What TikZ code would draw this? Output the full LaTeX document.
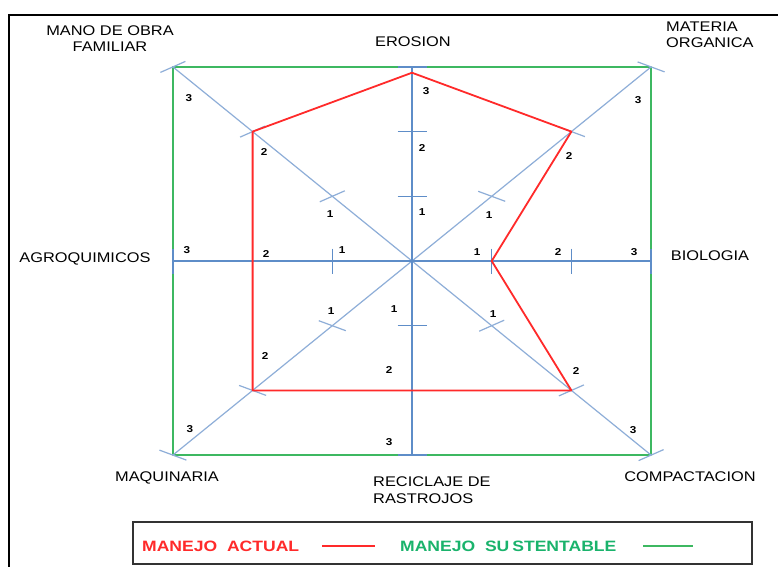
\documentclass[tikz,border=0pt]{standalone}
\usepackage{fontspec}
\setmainfont{Liberation Sans}
\usepackage{graphicx}
\usetikzlibrary{calc}
\definecolor{axisblue}{HTML}{5E8DC8}
\definecolor{diagblue}{HTML}{8EAED8}
\definecolor{actualred}{HTML}{FF2A2A}
\definecolor{sustgreen}{HTML}{3DB861}
\definecolor{legendgreen}{HTML}{1AB36C}
\definecolor{boxgray}{HTML}{333333}
% slightly widened lettering
\newcommand{\wide}[1]{\scalebox{1.17}[1]{#1}}

\begin{document}
\begin{tikzpicture}[x=1pt,y=-1pt,
  lbl/.style={font=\fontsize{14}{16.5}\selectfont, inner sep=0pt, text=black},
  num/.style={font=\fontsize{10}{12}\selectfont\bfseries, inner sep=0pt, text=black},
  leg/.style={font=\fontsize{15}{18}\selectfont\bfseries, inner sep=0pt, anchor=west},
  axis/.style={axisblue, line width=1.5pt},
  diag/.style={diagblue, line width=1.2pt},
  actual/.style={actualred, line width=1.8pt, line join=round},
  sust/.style={sustgreen, line width=1.8pt, line join=round},
]
\useasboundingbox (0,0) rectangle (778,566);
\fill[white] (0,0) rectangle (778,566);
\draw[black, line width=1.2pt] (9,15) rectangle (790,580);

% centre of the star and the three levels on each of the eight axes
\coordinate (O) at (412,261);
\foreach \nm/\dx/\dy in {ero/0/-1, mat/1/-1, bio/1/0, comp/1/1, rec/0/1, maq/-1/1, agro/-1/0, mano/-1/-1}{
  \foreach \k in {1,2,3}{
    \coordinate (\nm\k) at ($(O)+({\k*(\dx)*79.7},{\k*(\dy)*64.7})$);
  }
}

% sustainable management outline
\draw[sust] (mano3) -- (mat3) -- (comp3) -- (maq3) -- cycle;

% axes
\draw[diag] (mano3) -- (comp3);
\draw[diag] (mat3) -- (maq3);
\draw[axis] (ero3) -- (rec3);
\draw[axis] (agro3) -- (bio3);

% level ticks
\foreach \nm in {ero,rec}{\foreach \k in {1,2,3}{
  \draw[axis] ($(\nm\k)+(-14.5,0)$) -- ($(\nm\k)+(14.5,0)$);}}
\foreach \nm in {agro,bio}{\foreach \k in {1,2,3}{
  \draw[axis] ($(\nm\k)+(0,-12.5)$) -- ($(\nm\k)+(0,12.5)$);}}
\foreach \nm/\px/\py in {mat/13.5/5, maq/13.5/5, comp/12.5/-5.5, mano/12.5/-5.5}{\foreach \k in {1,2,3}{
  \draw[diag] ($(\nm\k)-(\px,\py)$) -- ($(\nm\k)+(\px,\py)$);}}

% current management outline
\coordinate (redtop) at ($(O)!0.97!(ero3)$);
\draw[actual] (redtop) -- (mat2) -- (bio1) -- (comp2) -- (rec2) -- (maq2) -- (agro2) -- (mano2) -- cycle;

% axis titles
\node[lbl] (tmano) at (110,40) {\wide{\begin{tabular}{@{}c@{}}MANO DE OBRA\\FAMILIAR\end{tabular}}};
\node[lbl] (tero) at (413,42) {\wide{EROSION}};
\node[lbl, anchor=west] (tmat) at (666,36) {\wide{\begin{tabular}{@{}l@{}}MATERIA\\ORGANICA\end{tabular}}};
\node[lbl] (tagro) at (85,259) {\wide{AGROQUIMICOS}};
\node[lbl] (tbio) at (710,256) {\wide{BIOLOGIA}};
\node[lbl] (tmaq) at (167,478) {\wide{MAQUINARIA}};
\node[lbl, anchor=west] (trec) at (373,491.5) {\wide{\begin{tabular}{@{}l@{}}RECICLAJE DE\\RASTROJOS\end{tabular}}};
\node[lbl] (tcomp) at (690,477) {\wide{COMPACTACION}};

% level numbers
\foreach \x/\y/\v [count=\i] in {
  189/98/3, 264/152/2, 330/214/1,
  426/91/3, 422/148/2, 422/212/1,
  489/215/1, 569/156/2, 638/100/3,
  187/250/3, 266/254/2, 342/250/1,
  477/252/1, 558/252/2, 634/252/3,
  331/311/1, 394/309/1, 493/314/1,
  265/356/2, 389/370/2, 576/371/2,
  190/429/3, 389/442/3, 633/430/3}{
  \node[num] (n\i) at (\x,\y) {\wide{\v}};
}

% legend
\node[draw=boxgray, line width=1.8pt, minimum width=619pt, minimum height=42pt, inner sep=0pt] (legend) at (442.5,543) {};
\node[leg, text=actualred] (lact) at (142,546) {\wide{MANEJO\ \ ACTUAL}};
\coordinate (ra) at (322,546);
\coordinate (rb) at (375,546);
\draw[actualred, line width=1.6pt] (ra) -- (rb);
\node[leg, text=legendgreen] (lsus) at (400,546) {\wide{MANEJO\ \ SU\kern2.5pt STENTABLE}};
\coordinate (ga) at (643,546);
\coordinate (gb) at (693,546);
\draw[sustgreen, line width=1.6pt] (ga) -- (gb);
\end{tikzpicture}
\end{document}
